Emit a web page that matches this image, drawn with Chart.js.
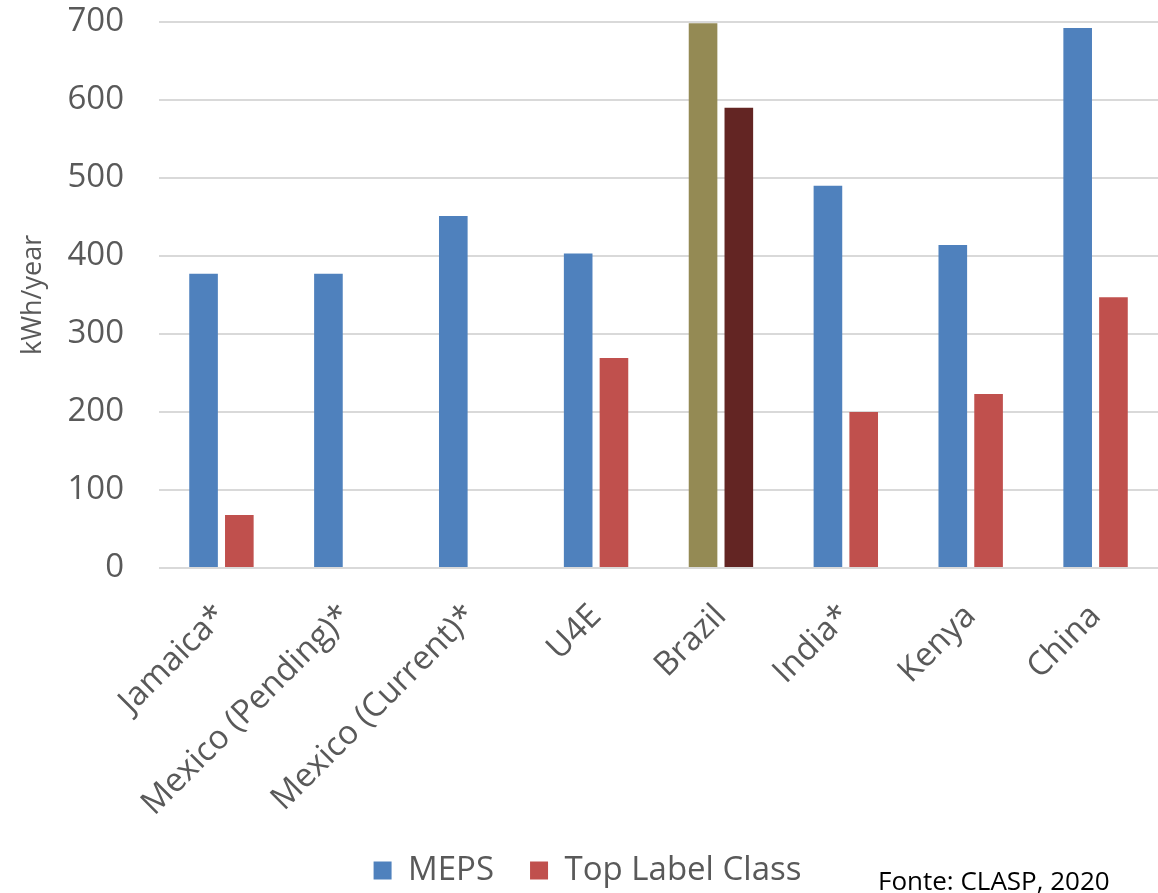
<!DOCTYPE html>
<html lang="en">
<head>
<meta charset="UTF-8">
<title>MEPS vs Top Label Class</title>
<script src="https://cdn.jsdelivr.net/npm/chart.js"></script>
<style>
  body { margin: 0; background: #fff; }
  #wrap { width: 1158px; height: 893px; }
</style>
</head>
<body>
<div id="wrap"><canvas id="chart" width="1158" height="893"></canvas></div>
<script>
// categories and values (kWh/year)
const categories = ['Jamaica*', 'Mexico (Pending)*', 'Mexico (Current)*', 'U4E', 'Brazil', 'India*', 'Kenya', 'China'];
const mepsValues = [377, 377, 451, 403, 698, 490, 414, 692];
const topLabelValues = [68, null, null, 269, 590, 200, 223, 347];
const yTicks = [0, 100, 200, 300, 400, 500, 600, 700];

// Brazil is highlighted with its own colours
const mepsColors = categories.map(c => c === 'Brazil' ? '#948A54' : '#4F81BD');
const topColors = categories.map(c => c === 'Brazil' ? '#632523' : '#C0504D');

const grey = '#595959';
const font = 'Open Sans';

// source note at the bottom right
const sourceNote = {
    id: 'sourceNote',
    afterDraw(chart) {
        const c = chart.ctx;
        c.save();
        c.font = '26px "' + font + '"';
        c.fillStyle = '#000';
        c.textAlign = 'left';
        c.textBaseline = 'alphabetic';
        c.fillText('Fonte: CLASP, 2020', 878, 890);
        c.restore();
    }
};

const ctx = document.getElementById('chart').getContext('2d');
new Chart(ctx, {
    type: 'bar',
    data: {
        labels: categories,
        datasets: [
            {
                label: 'MEPS',
                data: mepsValues,
                backgroundColor: mepsColors,
                categoryPercentage: 0.573,
                barPercentage: 0.8
            },
            {
                label: 'Top Label Class',
                data: topLabelValues,
                backgroundColor: topColors,
                categoryPercentage: 0.573,
                barPercentage: 0.8
            }
        ]
    },
    options: {
        responsive: false,
        animation: false,
        layout: { padding: { top: 4, right: 0, left: 17, bottom: -4 } },
        scales: {
            x: {
                grid: { display: false },
                border: { display: false },
                ticks: {
                    color: grey,
                    font: { family: font, size: 33 },
                    minRotation: 45,
                    maxRotation: 45,
                    padding: 21
                },
                // keep the label band as tall as in the original
                afterFit: scale => { scale.height = 250; }
            },
            y: {
                min: 0,
                max: 700,
                afterBuildTicks: axis => { axis.ticks = yTicks.map(v => ({ value: v })); },
                grid: { color: '#D9D9D9', lineWidth: 2, drawTicks: true, tickLength: 33, tickColor: 'transparent' },
                border: { display: false },
                ticks: {
                    color: grey,
                    font: { family: font, size: 33 },
                    padding: 2
                },
                title: {
                    display: true,
                    text: 'kWh/year',
                    color: grey,
                    font: { family: font, size: 27 },
                    padding: { top: 0, bottom: 16 }
                }
            }
        },
        plugins: {
            legend: {
                position: 'bottom',
                align: 'center',
                labels: {
                    color: grey,
                    font: { family: font, size: 33 },
                    boxWidth: 18,
                    boxHeight: 18,
                    padding: 36,
                    generateLabels: chart => chart.data.datasets.map((ds, i) => ({
                        text: ds.label,
                        fillStyle: i === 0 ? '#4F81BD' : '#C0504D',
                        strokeStyle: 'transparent',
                        lineWidth: 0,
                        fontColor: grey,
                        datasetIndex: i
                    }))
                }
            },
            tooltip: { enabled: false }
        }
    },
    plugins: [sourceNote]
});
</script>
</body>
</html>
